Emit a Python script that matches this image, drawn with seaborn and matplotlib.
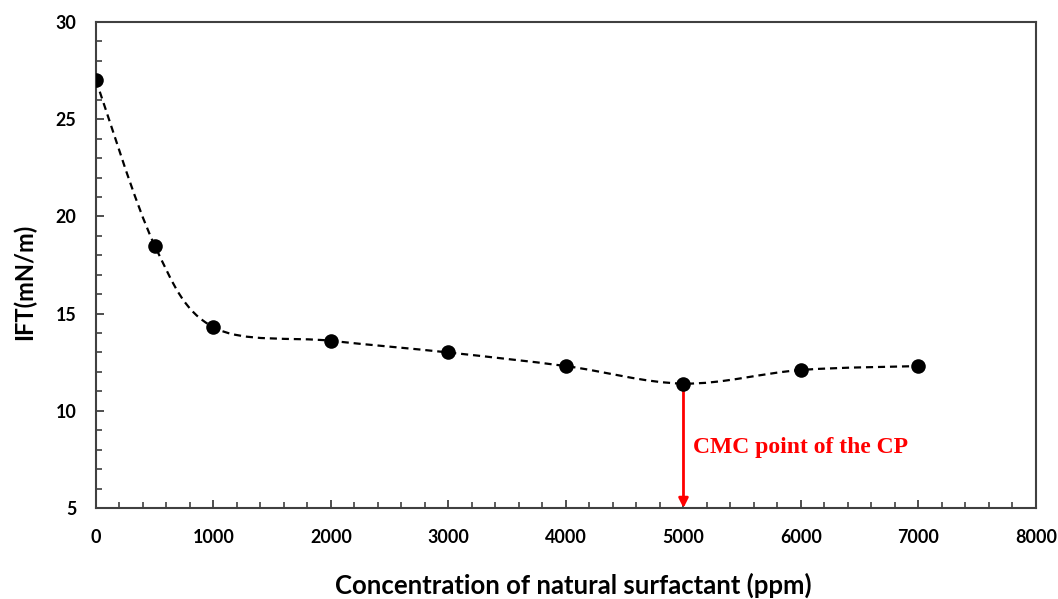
import numpy as np
import matplotlib
matplotlib.use("Agg")
import matplotlib.pyplot as plt
from matplotlib.path import Path
from matplotlib.patches import PathPatch
from matplotlib.ticker import MultipleLocator
import seaborn as sns
import pandas as pd

# Interfacial tension vs. surfactant concentration
concentration_ppm = [0, 500, 1000, 2000, 3000, 4000, 5000, 6000, 7000]
ift_mn_m = [27.0, 18.5, 14.3, 13.6, 13.0, 12.3, 11.4, 12.1, 12.3]
cmc_ppm = 5000
cmc_label = "CMC point of the CP"

sns.set_theme(style="white")
plt.rcParams["font.family"] = ["Lato", "DejaVu Sans"]

df = pd.DataFrame({"conc": concentration_ppm, "ift": ift_mn_m})

fig = plt.figure(figsize=(10.58, 5.99), dpi=100)
ax = fig.add_axes([0.0907, 0.1519, 0.8885, 0.8114])

# Smoothed dashed connector (cubic Bezier segments, Catmull-Rom style)
x = np.asarray(df["conc"], float)
y = np.asarray(df["ift"], float)
pts = np.column_stack([x, y])
verts = [pts[0]]
codes = [Path.MOVETO]
n = len(pts)
for i in range(n - 1):
    p0 = pts[i - 1] if i > 0 else pts[i]
    p1 = pts[i]
    p2 = pts[i + 1]
    p3 = pts[i + 2] if i + 2 < n else pts[i + 1]
    c1 = p1 + (p2 - p0) / 6.0
    c2 = p2 - (p3 - p1) / 6.0
    verts += [c1, c2, p2]
    codes += [Path.CURVE4] * 3
curve = PathPatch(Path(verts, codes), facecolor="none", edgecolor="black",
                  linewidth=1.6, linestyle=(0, (3.2, 2.2)), transform=ax.transData, zorder=2)
ax.add_patch(curve)

sns.scatterplot(data=df, x="conc", y="ift", ax=ax, color="black", s=110,
                edgecolor="black", linewidth=0, zorder=3, legend=False)

# CMC marker arrow
cmc_ift = ift_mn_m[concentration_ppm.index(cmc_ppm)]
ax.annotate("", xy=(cmc_ppm, 5.0), xytext=(cmc_ppm, cmc_ift - 0.15),
            arrowprops=dict(arrowstyle="-|>", color="#ff0000", lw=2.0,
                            mutation_scale=14, shrinkA=0, shrinkB=0), zorder=2)
ax.text(cmc_ppm + 80, 8.1, cmc_label, color="#ff0000", fontsize=17,
        fontweight="bold", family="Liberation Serif", va="center", ha="left")

ax.set_xlim(0, 8000)
ax.set_ylim(5, 30)
ax.xaxis.set_major_locator(MultipleLocator(1000))
ax.xaxis.set_minor_locator(MultipleLocator(200))
ax.yaxis.set_major_locator(MultipleLocator(5))
ax.yaxis.set_minor_locator(MultipleLocator(1))

spine_color = "#404040"
for s in ax.spines.values():
    s.set_color(spine_color)
    s.set_linewidth(1.5)
    s.set_visible(True)

ax.tick_params(axis="both", which="both", direction="in", color=spine_color,
               bottom=True, left=True, top=False, right=False)
ax.tick_params(axis="both", which="major", length=6, width=1.3, labelsize=12.9)
ax.tick_params(axis="both", which="minor", length=4, width=1.2)
ax.tick_params(axis="x", which="major", pad=15)
ax.tick_params(axis="y", which="major", pad=14)
for lab in ax.get_xticklabels() + ax.get_yticklabels():
    lab.set_fontweight("bold")
    lab.set_color("black")

ax.set_xlabel("Concentration of natural surfactant (ppm)", fontsize=18.5,
              fontweight="bold", color="black")
ax.set_ylabel("IFT(mN/m)", fontsize=17, fontweight="bold", color="black")
ax.xaxis.set_label_coords((573 - 96) / 940, -(585 - 508) / 486)
ax.yaxis.set_label_coords(-(96 - 24) / 940, (508 - 282) / 486)
ax.xaxis.label.set_va("center")
ax.yaxis.label.set_va("center")
ax.grid(False)

fig.savefig("out.png", dpi=100, facecolor="white")
